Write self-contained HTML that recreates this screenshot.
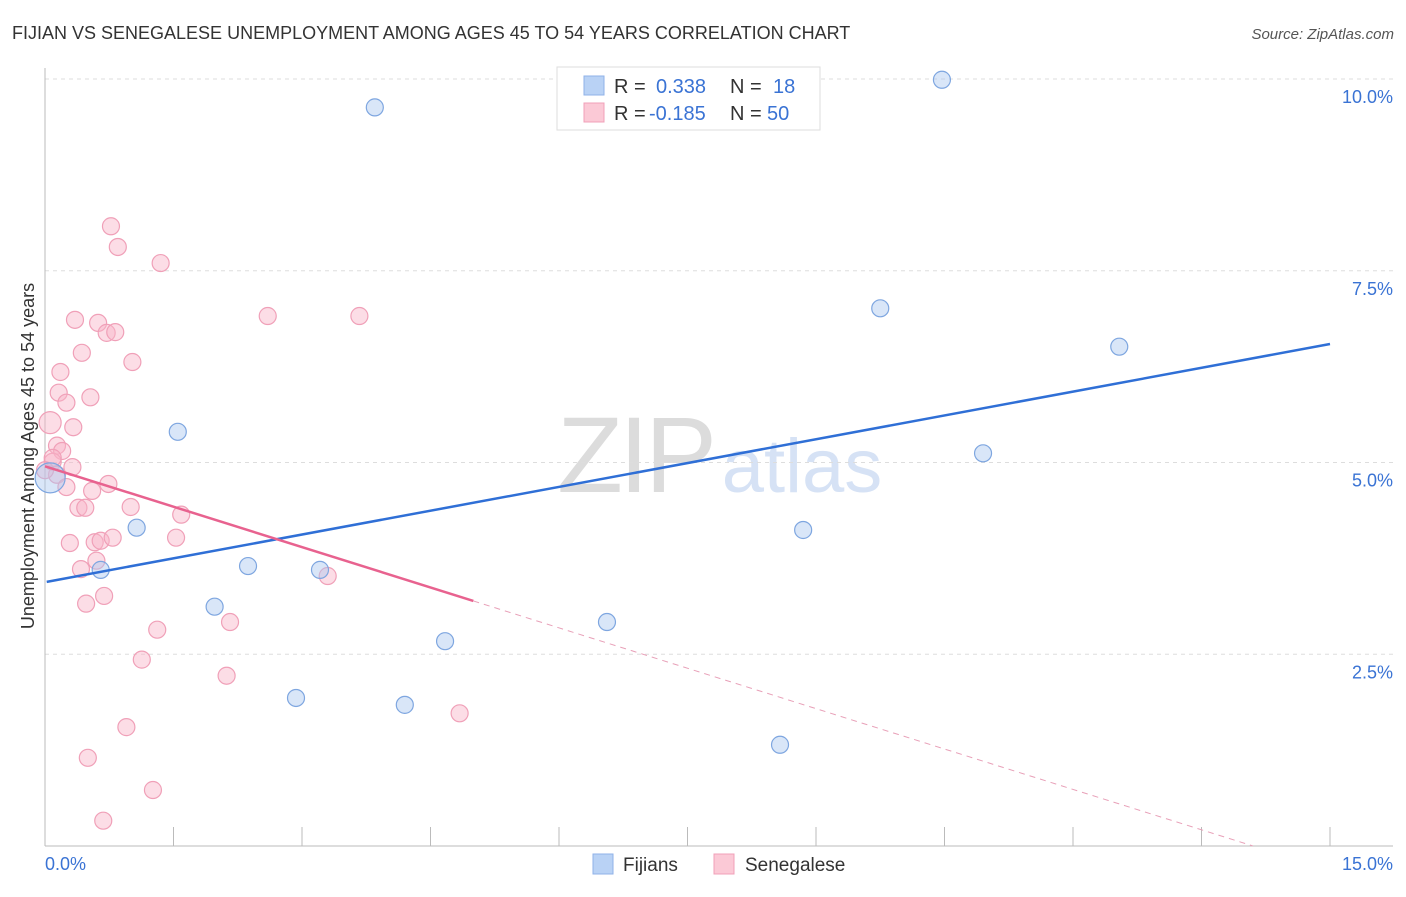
<!DOCTYPE html>
<html><head><meta charset="utf-8"><style>
body{margin:0;background:#fff;font-family:"Liberation Sans",sans-serif}
svg text{font-family:"Liberation Sans",sans-serif}
</style></head><body>
<svg id="chart" width="1406" height="892" viewBox="0 0 1406 892">
<text x="12" y="39" font-size="18" fill="#333">FIJIAN VS SENEGALESE UNEMPLOYMENT AMONG AGES 45 TO 54 YEARS CORRELATION CHART</text>
<text x="1394" y="39" font-size="15" fill="#555" font-style="italic" text-anchor="end">Source: ZipAtlas.com</text>
<g>
<text x="635" y="492" font-size="108" fill="#dcdcdc" text-anchor="middle" font-family="Liberation Serif,serif" letter-spacing="-4">ZIP</text>
<text x="802" y="492" font-size="76" fill="#d6e2f5" text-anchor="middle">atlas</text>
</g>
<g id="grid"></g>
<g id="axes"></g>
<g id="marks"></g>
<text transform="translate(34,456) rotate(-90)" font-size="18" fill="#333" text-anchor="middle">Unemployment Among Ages 45 to 54 years</text>
<g>
<rect x="557" y="67" width="263" height="63" fill="#fff" stroke="#ddd"/>
<rect x="584" y="76" width="20" height="19" fill="#b9d2f5" stroke="#8fb2e8"/>
<rect x="584" y="103" width="20" height="19" fill="#fbc9d6" stroke="#f0a0b8"/>
<text x="614" y="93" font-size="20" fill="#333">R = </text><text x="656" y="93" font-size="20" fill="#3a73d4">0.338</text>
<text x="730" y="93" font-size="20" fill="#333">N = </text><text x="773" y="93" font-size="20" fill="#3a73d4">18</text>
<text x="614" y="120" font-size="20" fill="#333">R = </text><text x="649" y="120" font-size="20" fill="#3a73d4">-0.185</text>
<text x="730" y="120" font-size="20" fill="#333">N = </text><text x="767" y="120" font-size="20" fill="#3a73d4">50</text>
</g>
<g>
<rect x="593" y="854" width="20" height="20" fill="#b9d2f5" stroke="#8fb2e8"/>
<text x="623" y="871" font-size="19" fill="#333">Fijians</text>
<rect x="714" y="854" width="20" height="20" fill="#fbc9d6" stroke="#f0a0b8"/>
<text x="745" y="871" font-size="19" fill="#333">Senegalese</text>
</g>
</svg>
<script>
const xTicks=[0,1.5,3,4.5,6,7.5,9,10.5,12,13.5,15];
const yTicks=[2.5,5,7.5,10];
const yTickLabels=["2.5%","5.0%","7.5%","10.0%"];
const fijianX=[10.47,3.85,9.75,12.54,1.55,10.95,1.07,8.85,2.37,3.21,0.65,1.98,6.56,4.67,2.93,4.20,8.58,0.06];
const fijianY=[9.99,9.63,7.01,6.51,5.40,5.12,4.15,4.12,3.65,3.60,3.60,3.12,2.92,2.67,1.93,1.84,1.32,4.80];
const senegaleseX=[0.77,0.85,1.35,2.60,3.67,0.35,0.62,0.72,0.82,0.43,1.02,0.18,0.16,0.53,0.25,0.33,0.06,0.14,0.20,0.09,0.32,0.14,0.25,0.74,0.55,0.39,0.47,1.00,1.59,0.29,0.58,0.65,0.79,1.53,0.60,0.42,3.30,0.69,0.48,2.16,1.31,1.13,2.12,4.84,0.95,0.50,1.26,0.68,0.09,0.00];
const senegaleseY=[8.08,7.81,7.60,6.91,6.91,6.86,6.82,6.69,6.70,6.43,6.31,6.18,5.91,5.85,5.78,5.46,5.52,5.22,5.15,5.01,4.94,4.84,4.68,4.72,4.63,4.41,4.41,4.42,4.32,3.95,3.96,3.98,4.02,4.02,3.72,3.61,3.52,3.26,3.16,2.92,2.82,2.43,2.22,1.73,1.55,1.15,0.73,0.33,5.06,4.90];
const fijianTrend=[3.44,0.207];
const senegaleseTrend=[4.95,-0.351];
const NS="http://www.w3.org/2000/svg";
const X=v=>45+v/15*1285, Y=v=>846-v*76.7;
function mk(p,t,a){const e=document.createElementNS(NS,t);for(const k in a)e.setAttribute(k,a[k]);p.appendChild(e);return e;}
const grid=document.getElementById('grid'),axes=document.getElementById('axes'),marks=document.getElementById('marks');
yTicks.forEach((v,i)=>{
 const l=mk(grid,'line',{x1:45,x2:1393,y1:Y(v),y2:Y(v),stroke:'#ddd','stroke-dasharray':'4,4'});
 
 
 const t=mk(axes,'text',{x:1393,y:Y(v)+24,'font-size':18,fill:'#3a73d4','text-anchor':'end'});t.textContent=yTickLabels[i];
 
 
});
mk(axes,'line',{x1:45,x2:45,y1:68,y2:846,stroke:'#bbb'});
mk(axes,'line',{x1:45,x2:1393,y1:846,y2:846,stroke:'#bbb'});
xTicks.forEach(v=>{const l=mk(axes,'line',{x1:X(v),x2:X(v),y1:827,y2:846,stroke:'#bbb'});
 
 });
let t=mk(axes,'text',{x:45,y:870,'font-size':18,fill:'#3a73d4'});t.textContent='0.0%';


t=mk(axes,'text',{x:1393,y:870,'font-size':18,fill:'#3a73d4','text-anchor':'end'});t.textContent='15.0%';


senegaleseX.forEach((x,i)=>{const c=mk(marks,'circle',{cx:X(x),cy:Y(senegaleseY[i]),r:(i==16?11:8.5),fill:'rgba(248,180,200,0.45)',stroke:'#f0a0b8','stroke-width':1.2});
 
 });
fijianX.forEach((x,i)=>{const c=mk(marks,'circle',{cx:X(x),cy:Y(fijianY[i]),r:(i==17?15:8.5),fill:'rgba(170,200,240,0.45)',stroke:'#7ea6e0','stroke-width':1.2});
 
 });
let l=mk(marks,'line',{x1:X(0.02),y1:Y(fijianTrend[0]+fijianTrend[1]*0.02),x2:X(15),y2:Y(fijianTrend[0]+fijianTrend[1]*15),stroke:'#2f6fd6','stroke-width':2.5});


l=mk(marks,'line',{x1:X(0),y1:Y(senegaleseTrend[0]),x2:X(5.0),y2:Y(senegaleseTrend[0]+senegaleseTrend[1]*5.0),stroke:'#e8628f','stroke-width':2.5});


l=mk(marks,'line',{x1:X(5.0),y1:Y(senegaleseTrend[0]+senegaleseTrend[1]*5.0),x2:X(14.1),y2:Y(senegaleseTrend[0]+senegaleseTrend[1]*14.1),stroke:'#e8a0b8','stroke-width':1,'stroke-dasharray':'6,5'});


</script>
</body></html>
